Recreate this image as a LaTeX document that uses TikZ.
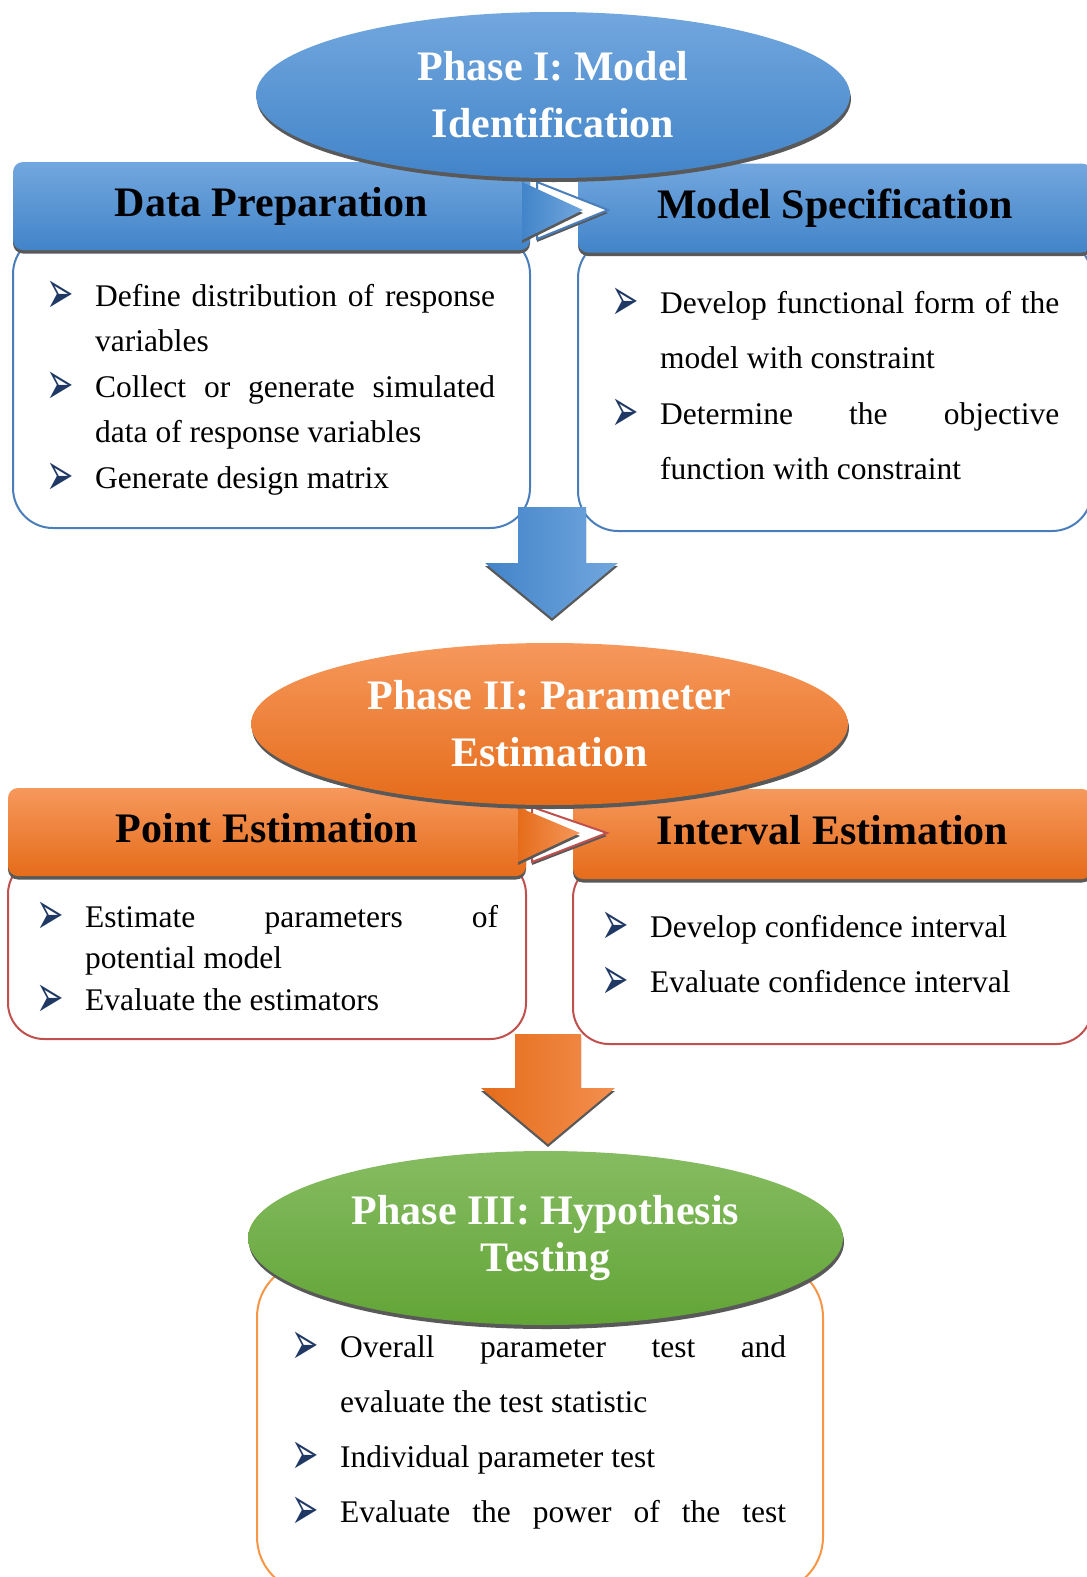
\documentclass[tikz,border=0pt]{standalone}
\usepackage{fontspec}
\setmainfont{Liberation Serif}
\newfontfamily\bulfont{DejaVu Sans}
\usetikzlibrary{shapes.geometric,shadows}

\definecolor{blueTop}{RGB}{114,167,222}
\definecolor{blueBot}{RGB}{66,132,201}
\definecolor{blueLine}{RGB}{74,126,187}
\definecolor{orangeTop}{RGB}{246,152,92}
\definecolor{orangeBot}{RGB}{229,108,26}
\definecolor{redLine}{RGB}{192,80,77}
\definecolor{orangeLine}{RGB}{247,150,70}
\definecolor{greenTop}{RGB}{134,188,98}
\definecolor{greenBot}{RGB}{98,164,54}
\definecolor{bulNavy}{RGB}{31,56,100}

\newcommand\bul{\raisebox{-7pt}{\scalebox{0.78}[1.45]{\bulfont\fontsize{42}{42}\selectfont\color{bulNavy}➢}}}
\newcommand\itm[1]{\noindent\hangindent=45pt\hangafter=1\makebox[45pt][l]{\hspace*{-4pt}\bul}#1\par}

\tikzset {
    style Phase/.style={
        ellipse, % Set the shape as an ellipse
        inner sep=0pt,
        minimum width=594pt,
        minimum height=166pt,
        align=center,
        text=white,
        font=\fontsize{42}{57}\selectfont\bfseries,
        drop shadow={shadow xshift=1pt, shadow yshift=-4pt, fill=black!65, opacity=1},
    },
    style Head/.style={
        rectangle, % Set the shape as a rectangle
        rounded corners=10pt,
        inner sep=0pt,
        minimum height=88pt,
        text height=29pt,
        text depth=9pt,
        font=\fontsize{42}{50}\selectfont\bfseries,
        drop shadow={shadow xshift=0pt, shadow yshift=-3.5pt, fill=black!65, opacity=1},
    },
    style Body/.style={
        rectangle, % Set the shape as a rectangle
        rounded corners=40pt,
        fill=white,
        draw=#1,
        line width=2pt,
        inner sep=0pt,
    },
    style List/.style={
        anchor=base west,
        inner sep=0pt,
        align=justify,
        font=\fontsize{31.5}{#1}\selectfont,
    },
    style Shade/.style={
        drop shadow={shadow xshift=0pt, shadow yshift=-3pt, fill=black!65, opacity=1},
    },
}

\begin{document}
\begin{tikzpicture}[x=1pt, y=-1pt]
        \useasboundingbox (0,0) rectangle (1087,1577);
        \clip (0,0) rectangle (1087,1577);

        % boxes under the headers
        \node[style Body=blueLine, minimum width=517pt, minimum height=294pt] (DaPb) at (271.5,381) {};
        \node[style Body=blueLine, minimum width=514pt, minimum height=293pt] (MoSb) at (835,384.5) {};
        \node[style Body=redLine, rounded corners=36pt, minimum width=518pt, minimum height=181pt] (PoEb) at (267,948.5) {};
        \node[style Body=redLine, rounded corners=36pt, minimum width=519pt, minimum height=182pt] (InEb) at (832.5,953) {};
        \node[style Body=orangeLine, rounded corners=55pt, minimum width=566pt, minimum height=330pt] (PhIIIb) at (540,1427) {};

        % headers
        \node[style Head, top color=blueTop, bottom color=blueBot, minimum width=517pt] (DaP) at (271.5,206) {Data Preparation};
        \node[style Head, top color=blueTop, bottom color=blueBot, minimum width=514pt, minimum height=89pt] (MoS) at (835,208) {Model Specification};
        \node[style Head, top color=orangeTop, bottom color=orangeBot, minimum width=518pt] (PoE) at (267,832) {Point Estimation};
        \node[style Head, top color=orangeTop, bottom color=orangeBot, minimum width=519pt, minimum height=90pt] (InE) at (832.5,834) {Interval Estimation};

        % chevrons between headers
        \coordinate (ChI) at (522,182);
        \coordinate (ChII) at (518,807);
        \draw[blueLine, line width=2pt, fill=white, style Shade] (ChI) ++(15,0) -- ++(71,28) -- ++(-71,29) -- cycle;
        \path[left color=blueBot, right color=blueTop, style Shade] (ChI) -- ++(61,28) -- ++(-61,30) -- cycle;
        \draw[redLine, line width=2pt, fill=white, style Shade] (ChII) ++(14,0) -- ++(75,26) -- ++(-75,29) -- cycle;
        \path[left color=orangeBot, right color=orangeTop, style Shade] (ChII) -- ++(62,26) -- ++(-62,29) -- cycle;

        % block arrows down
        \coordinate (ArI) at (552,507);
        \coordinate (ArII) at (548,1034);
        \path[left color=blueBot, right color=blueTop, style Shade] (ArI) ++(-34,0) -- ++(68,0) -- ++(0,56) -- ++(32,0) -- ++(-66,55) -- ++(-67,-55) -- ++(33,0) -- cycle;
        \path[left color=orangeBot, right color=orangeTop!80!orangeBot, style Shade] (ArII) ++(-33,0) -- ++(66,0) -- ++(0,54) -- ++(34,0) -- ++(-67,56) -- ++(-67,-56) -- ++(34,0) -- cycle;

        % phases
        \node[style Phase, top color=blueTop, bottom color=blueBot] (PhI) at (553,95) {Phase I: Model\\Identification};
        \node[style Phase, top color=orangeTop, bottom color=orangeBot, minimum width=597pt, minimum height=162pt] (PhII) at (549.5,724) {Phase II: Parameter\\Estimation};
        \node[style Phase, top color=greenTop, bottom color=greenBot, minimum width=595pt, minimum height=174pt, font=\fontsize{42}{47}\selectfont\bfseries] (PhIII) at (545.5,1238) {Phase III: Hypothesis\\Testing};

        % lists
        \node[style List=45.5, text width=445pt] (DaPt) at (50,306) {
            \itm{Define distribution of response\linebreak variables}
            \itm{Collect or generate simulated\linebreak data of response variables}
            \itm{Generate design matrix}
        };
        \node[style List=55.5, text width=444pt] (MoSt) at (615,313) {
            \itm{Develop functional form of the\linebreak model with constraint}
            \itm{Determine the objective\linebreak function with constraint}
        };
        \node[style List=41.5, text width=458pt] (PoEt) at (40,927) {
            \itm{Estimate parameters of\linebreak potential model}
            \itm{Evaluate the estimators}
        };
        \node[style List=55, text width=450pt] (InEt) at (605,937) {
            \itm{Develop confidence interval}
            \itm{Evaluate confidence interval}
        };
        \node[style List=55, text width=491pt] (PhIIIt) at (295,1357) {
            \itm{Overall parameter test and\linebreak evaluate the test statistic}
            \itm{Individual parameter test}
            \itm{Evaluate the power of the test\parfillskip=0pt}
        };
    \end{tikzpicture}
\end{document}
